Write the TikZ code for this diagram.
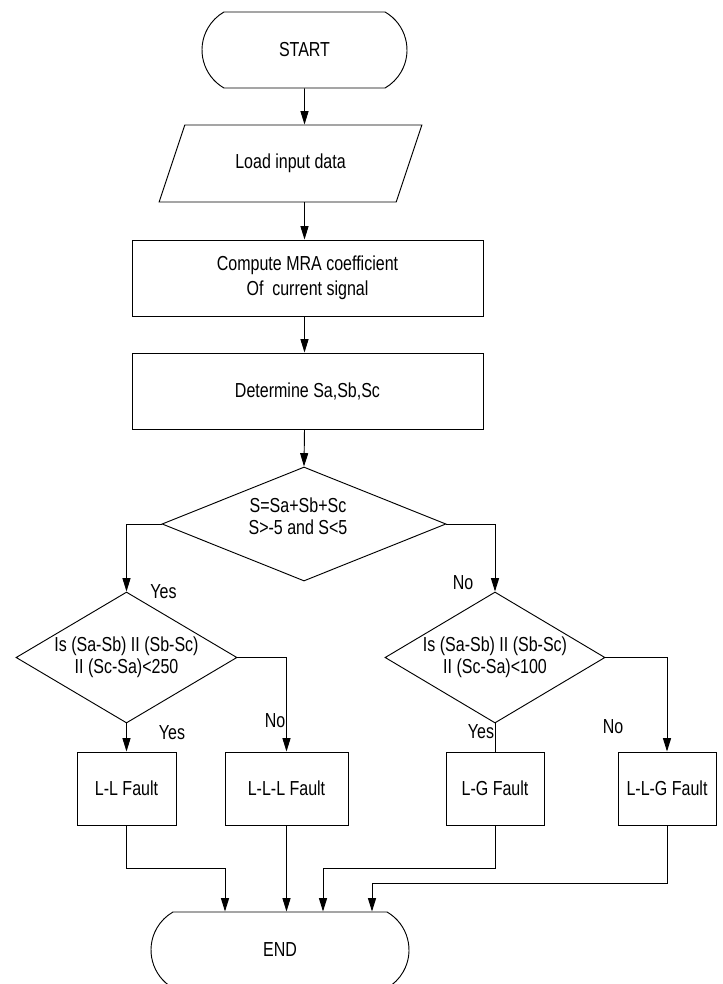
\documentclass[tikz,border=0pt]{standalone}
\usepackage{fontspec}
\setmainfont{Liberation Sans}[FakeStretch=0.79]
\usetikzlibrary{shapes.geometric, shapes.misc, arrows.meta, calc}

\tikzset{
    term/.style={draw, rounded rectangle, rounded rectangle arc length=120,
        minimum height=57pt, inner sep=0pt},
    io/.style={draw, trapezium, trapezium left angle=62.5, trapezium right angle=117.5,
        trapezium stretches=true, minimum width=197.25pt, minimum height=57.75pt},
    proc/.style={draw, rectangle, minimum width=263.25pt, minimum height=57pt,
        font=\fontsize{15.2}{18.75}\selectfont, align=center},
    decision/.style={draw, diamond, aspect=1.7, inner sep=0pt, align=center},
    fault/.style={draw, rectangle, inner sep=0pt, minimum height=54.75pt},
    arr/.style={-{Triangle[length=10pt, width=6pt]}}
}

\begin{document}
\begin{tikzpicture}[x=0.75pt, y=-0.75pt, line width=0.7pt,
    font=\fontsize{15.2}{16.5}\selectfont]
    \useasboundingbox (0,0) rectangle (723,984);

    % Start and input
    \node[term, minimum width=153.75pt] (start) at (304.5,50) {START};
    \node[io] (load) at (290.5,163.5) {Load input data};
    \node[proc] (mra) at (307.5,278) {Compute MRA coefficient\\Of\ \ current signal};
    \node[proc] (sabc) at (307.5,391) {Determine Sa,Sb,Sc};

    % First test
    \node[decision, minimum width=213pt, minimum height=85.5pt] (sum) at (304,524) {};
    \node[align=center] (sumtxt) at (298,516) {S=Sa+Sb+Sc\\ S>-5 and S<5};

    % Second tests
    \node[decision, minimum width=165.75pt, minimum height=98.25pt] (chkll) at (126.5,657.5)
        {Is (Sa-Sb) II (Sb-Sc)\\II (Sc-Sa)<250};
    \node[decision, minimum width=165pt, minimum height=98.25pt] (chklg) at (495,657.5)
        {Is (Sa-Sb) II (Sb-Sc)\\II (Sc-Sa)<100};

    % Fault boxes
    \node[fault, minimum width=74.25pt] (ll) at (126.5,788.5) {L-L Fault};
    \node[fault, minimum width=92.25pt] (lll) at (286.5,788.5) {L-L-L Fault};
    \node[fault, minimum width=73.5pt] (lg) at (495,788.5) {L-G Fault};
    \node[fault, minimum width=73.5pt] (llg) at (667,788.5) {L-L-G Fault};

    % End
    \node[term, minimum width=193.5pt] (stop) at (280,950) {END};

    % Yes / No tags
    \node (yes1) at (163.5,592) {Yes};
    \node (no1) at (463,583) {No};
    \node (yes2) at (172,733) {Yes};
    \node (no2) at (275,721) {No};
    \node (yes3) at (481,732) {Yes};
    \node (no3) at (613,727) {No};

    % Main line
    \draw[arr] (start) -- (start |- load.north);
    \draw[arr] (start |- load.south) -- (start |- mra.north);
    \draw[arr] (start |- mra.south) -- (start |- sabc.north);
    \draw[arr] (start |- sabc.south) -- (sum.north);

    % Branches
    \draw[arr] (sum.west) -| (chkll.north);
    \draw[arr] (sum.east) -| (chklg.north);
    \draw[arr] (chkll.south) -- (ll.north);
    \draw[arr] (chkll.east) -| (lll.north);
    \draw (chklg.south) -- (lg.north);
    \draw[arr] (chklg.east) -| (llg.north);

    % Into END
    \coordinate (in1) at ($(stop.north)+(-55,0)$);
    \coordinate (in3) at ($(stop.north)+(43,0)$);
    \coordinate (in4) at ($(stop.north)+(92,0)$);
    \draw[arr] (ll.south) -- ++(0,43) -| (in1);
    \draw[arr] (lll.south) -- (lll.south |- stop.north);
    \draw[arr] (lg.south) -- ++(0,43) -| (in3);
    \draw[arr] (llg.south) -- ++(0,58) -| (in4);
\end{tikzpicture}
\end{document}
